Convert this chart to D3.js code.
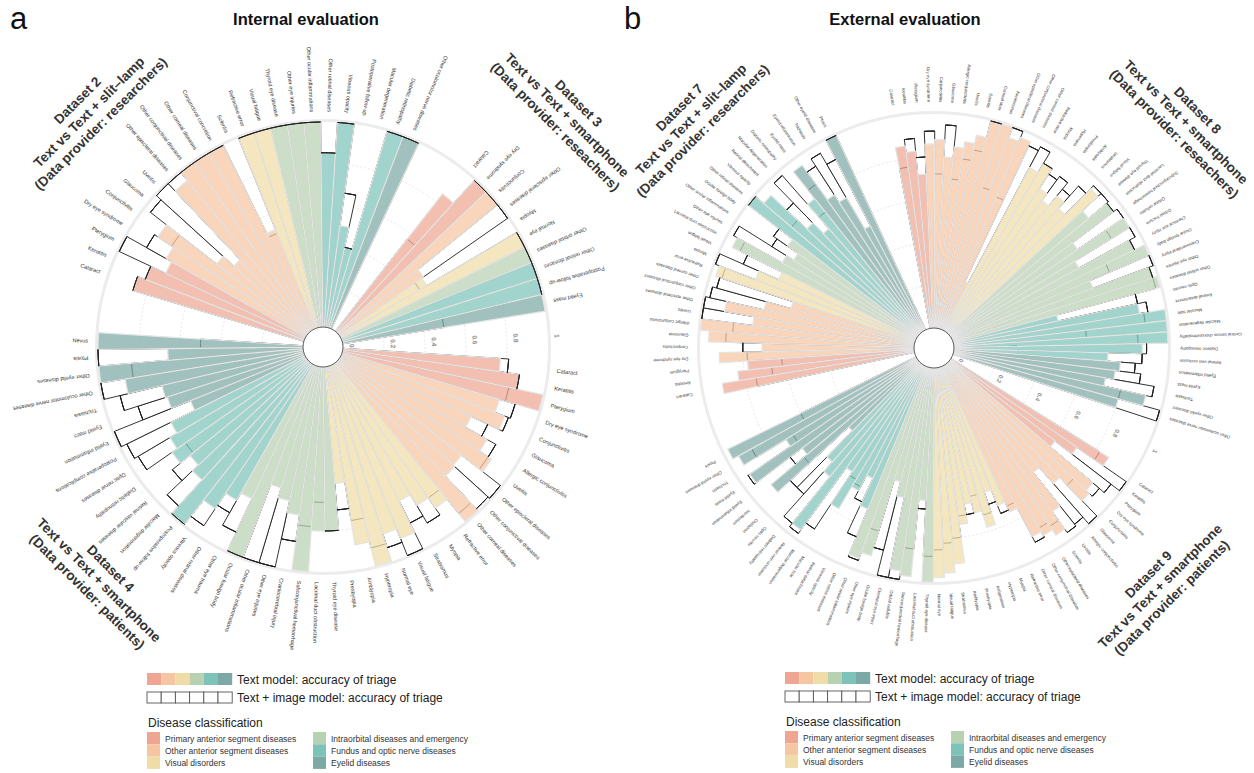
<!DOCTYPE html>
<html>
<head>
<meta charset="utf-8">
<script src="https://cdn.jsdelivr.net/npm/d3@7"></script>
<style>
body { margin: 0; background: #fff; }
svg { font-family: "Liberation Sans", Arial, sans-serif; }
</style>
</head>
<body>
<svg id="fig" width="1254" height="773"></svg>
<script>
// ---- categories ----
const catNames = ['Primary anterior segment diseases', 'Other anterior segment diseases', 'Visual disorders',
  'Intraorbital diseases and emergency', 'Fundus and optic nerve diseases', 'Eyelid diseases'];
const catColors = ['#EEA692', '#F6C5A2', '#F0DCA6', '#B8D1B2', '#7DC3BA', '#7CA9A5'];

const tickVals = [0, 0.2, 0.4, 0.6, 0.8, 1];
const tickLabels = ['0', '0.2', '0.4', '0.6', '0.8', '1'];
const gridVals = [0.2, 0.4, 0.6, 0.8];

// ---- internal evaluation ----
const d2Labels = ['Cataract','Keratitis','Pterygium','Dry eye syndrome','Conjunctivitis','Glaucoma','Uveitis',
  'Other episcleral diseases','Other conjunctival diseases','Other corneal diseases','Conjunctival concretion','Scleritis',
  'Refractive error','Visual fatigue','Thyroid eye disease','Other eye injuries','Other ocular inflammations',
  'Other retinal diseases','Vitreous opacity','Postoperative follow-up','Macular degeneration','Diabetic retinopathy',
  'Other oculomotor nerve diseases'];
const d2Cats = [0,0,0,1,1,1,1,1,1,1,1,1,2,2,3,3,3,4,4,4,4,4,5];
const d2Text = [0.87,0.83,0.75,0.78,0.87,0.56,0.49,0.95,1.0,1.0,1.0,0.52,1.0,1.0,1.0,1.0,1.0,0.85,1.0,0.50,0.40,1.0,1.0];
const d2Image = [0.87,0.83,1.0,0.89,0.79,0.97,1.0,1.0,1.0,1.0,1.0,0.50,1.0,1.0,1.0,1.0,1.0,0.85,1.0,0.66,0.40,1.0,1.0];

const d3Labels = ['Cataract','Dry eye syndrome','Conjunctivitis','Other episcleral diseases','Myopia','Normal eye',
  'Other orbital diseases','Other retinal diseases','Postoperative follow-up','Eyelid mass'];
const d3Cats = [0,0,1,1,2,2,3,4,4,5];
const d3Text = [0.85,1.0,1.0,0.50,0.49,1.0,1.0,1.0,1.0,1.0];
const d3Image = [0.57,1.0,1.0,1.0,0.45,1.0,1.0,1.0,1.0,0.50];

const d4Labels = ['Cataract','Keratitis','Pterygium','Dry eye syndrome','Conjunctivitis','Glaucoma','Allergic conjunctivitis',
  'Uveitis','Other episcleral diseases','Other conjunctival diseases','Other corneal diseases','Refractive error','Myopia',
  'Strabismus','Visual fatigue','Normal eye','Hyperopia','Amblyopia','Presbyopia','Thyroid eye disease',
  'Lacrimal duct obstruction','Subconjunctival hemorrhage','Craniocerebral injury','Other eye injuries',
  'Other ocular inflammations','Ocular foreign body','Other eye trauma','Other retinal diseases','Vitreous opacity',
  'Postoperative follow-up','Macular degeneration','Retinal vascular diseases','Diabetic retinopathy',
  'Optic nerve diseases','Postoperative complications','Eyelid inflammation','Eyelid mass','Trichiasis',
  'Other oculomotor nerve diseases','Other eyelid diseases','Ptosis','Nevus'];
const d4Cats = [0,0,0, 1,1,1,1,1,1,1,1, 2,2,2,2,2,2,2,2, 3,3,3,3,3,3,3,3, 4,4,4,4,4,4,4,4, 5,5,5,5,5,5,5];
const d4Text = [0.77,0.87,1.0, 0.80,0.85,0.70,0.82,0.89,0.76,0.77,1.0, 0.86,0.80,0.74,0.91,0.86,1.0,0.88,0.57,
  0.80,0.80,1.0,0.73,0.67,0.62,1.0,0.72, 0.76,0.85,1.0,0.78,0.74,0.80,0.77,0.73, 0.60,0.70,0.71,0.88,1.0,0.66,1.0];
const d4Image = [0.81,0.87,0.83, 0.88,0.87,0.79,0.87,0.87,1.0,0.99,0.95, 0.80,0.90,0.86,1.0,0.93,0.91,0.76,0.70,
  0.80,0.66,0.78,0.86,1.0,1.0,1.0,0.90, 0.83,0.95,1.0,0.95,0.85,0.72,0.95,0.97, 1.0,0.85,0.92,1.0,0.84,1.0,0.50];

// ---- external evaluation ----
const d7Labels = ['Cataract','Keratitis','Pterygium','Dry eye syndrome','Conjunctivitis','Glaucoma','Allergic conjunctivitis',
  'Uveitis','Other episcleral diseases','Other conjunctival diseases','Other corneal diseases','Refractive error','Myopia',
  'Visual fatigue','Lacrimal duct obstruction','Other eye injuries','Other ocular inflammations','Ocular foreign body',
  'Other retinal diseases','Vitreous opacity','Retinal detachment','Macular degeneration','Diabetic retinopathy',
  'Eyelid mass','Eyelid inflammation','Trichiasis','Other eyelid diseases','Ptosis'];
const d7Cats = [0,0,0, 1,1,1,1,1,1,1,1, 2,2,2, 3,3,3,3, 4,4,4,4,4, 5,5,5,5,5];
const d7Text = [0.91,0.83,0.78, 0.91,0.71,0.96,1.0,0.76,0.90,0.72,0.60, 0.98,0.80,0.70, 0.96,0.72,0.68,0.74,
  1.0,0.95,0.72,0.65,0.80, 0.96,0.76,0.72,0.55,1.0];
const d7Image = [0.75,0.67,0.62, 0.78,0.80,0.88,0.85,1.0,1.0,0.98,0.96, 0.95,1.0,0.88, 0.92,0.98,0.80,0.82,
  1.0,0.78,0.85,0.98,0.72, 0.85,0.92,0.96,0.90,1.0];

const d8Labels = ['Cataract','Keratitis','Pterygium','Dry eye syndrome','Conjunctivitis','Glaucoma','Allergic conjunctivitis',
  'Uveitis','Scleritis','Corneal ulcer','Keratoconus','Other episcleral diseases','Other conjunctival diseases',
  'Other corneal diseases','Refractive error','Myopia','Hyperopia','Presbyopia','Amblyopia','Strabismus','Visual fatigue',
  'Thyroid eye disease','Lacrimal duct obstruction','Subconjunctival hemorrhage','Orbital cellulitis','Orbital fracture',
  'Chemical eye injury','Ocular foreign body','Craniocerebral injury','Other eye injuries','Other orbital diseases',
  'Optic neuritis','Retinal detachment','Macular hole','Macular degeneration','Central serous chorioretinopathy',
  'Diabetic retinopathy','Retinal vein occlusion','Eyelid inflammation','Eyelid mass','Trichiasis',
  'Other eyelid diseases','Other oculomotor nerve diseases'];
const d8Cats = [0,0,0, 1,1,1,1,1,1,1,1,1,1,1, 2,2,2,2,2,2,2, 3,3,3,3,3,3,3,3,3,3, 4,4,4,4,4,4,4, 5,5,5,5,5];
const d8Text = [0.86,0.83,0.72, 0.86,0.88,0.80,0.85,0.88,0.92,1.0,1.0,0.95,0.97,0.25, 0.86,0.91,0.80,0.76,0.82,0.78,0.95,
  0.85,0.96,0.72,0.98,0.68,0.95,1.0,0.70,0.98,1.0, 0.50,0.88,1.0,1.0,1.0,0.88,0.72, 0.78,0.76,0.72,0.92,0.80];
const d8Image = [0.76,0.89,0.80, 0.92,0.72,0.95,0.70,0.80,0.85,1.0,0.69,1.0,0.67,0.95, 0.97,0.91,0.88,0.90,0.86,0.92,0.97,
  0.97,0.96,0.98,0.88,0.98,0.95,0.80,1.0,0.98,0.98, 0.88,0.92,0.90,0.62,0.86,0.90,0.88, 0.85,0.88,0.95,0.80,1.0];

const d9Labels = ['Cataract','Keratitis','Pterygium','Dry eye syndrome','Conjunctivitis','Glaucoma','Allergic conjunctivitis',
  'Uveitis','Scleritis','Other episcleral diseases','Other conjunctival diseases','Other corneal diseases',
  'Refractive error','Myopia','Hyperopia','Astigmatism','Presbyopia','Amblyopia','Strabismus','Visual fatigue','Normal eye',
  'Thyroid eye disease','Lacrimal duct obstruction','Subconjunctival hemorrhage','Orbital cellulitis','Chemical eye injury',
  'Ocular foreign body','Other eye injuries','Other ocular inflammations','Other retinal diseases','Vitreous opacity',
  'Retinal detachment','Macular hole','Macular degeneration','Retinal vein occlusion','Diabetic retinopathy',
  'Optic neuritis','Chalazion','Hordeolum','Eyelid inflammation','Eyelid mass','Trichiasis','Other eyelid diseases','Ptosis'];
const d9Cats = [0,0,0, 1,1,1,1,1,1,1,1,1, 2,2,2,2,2,2,2,2,2, 3,3,3,3,3,3,3,3, 4,4,4,4,4,4,4,4, 5,5,5,5,5,5,5];
const d9Text = [0.87,0.72,0.62, 0.88,0.90,0.75,0.65,0.85,0.95,0.92,0.90,0.75, 0.70,0.62,0.78,0.70,0.65,0.74,0.92,0.96,0.98,
  1.0,0.62,0.98,0.96,0.62,0.55,0.92,0.95, 0.72,0.58,0.66,0.78,0.60,0.96,0.68,0.62, 0.45,0.90,0.68,0.95,0.72,0.95,0.98];
const d9Image = [0.82,1.0,0.95, 0.92,0.80,1.0,0.96,0.97,0.90,0.88,0.93,0.72, 0.74,0.68,0.72,0.62,0.70,0.70,0.80,0.82,0.85,
  0.88,0.66,0.85,1.0,1.0,0.88,0.80,0.96, 0.86,0.70,0.64,0.62,0.92,0.98,0.96,0.82, 0.82,0.70,0.75,0.96,0.68,0.88,0.60];

const svg = d3.select('#fig');

function drawChart(c) {
  const ids = [];
  const rows = [];
  c.order.forEach((o, k) => {
    if (typeof o === 'number') {
      for (let j = 0; j < o; j++) ids.push('gap' + k + '_' + j);
    } else {
      o.labels.forEach((lab, i) => {
        const id = o.name + '_' + i;
        ids.push(id);
        rows.push({ id, label: lab, cat: o.cats[i], text: o.text[i], image: o.image[i] });
      });
    }
  });

  const a0 = c.start * Math.PI / 180;
  const x = d3.scaleBand().domain(ids).range([a0, a0 + 2 * Math.PI]);
  const y = d3.scaleLinear().domain([0, 1]).range([c.r0, c.r1]);
  const bw = x.bandwidth();
  const midDeg = d => (x(d.id) + bw / 2) * 180 / Math.PI;
  const relDeg = d => ((midDeg(d) - c.start) % 360 + 360) % 360;

  const g = svg.append('g').attr('transform', `translate(${c.cx},${c.cy})`);

  g.append('g').selectAll('circle')
    .data(gridVals).join('circle')
    .attr('r', d => y(d))
    .attr('fill', 'none')
    .attr('stroke', '#d6d6d6')
    .attr('stroke-width', 0.6)
    .attr('stroke-dasharray', '2,2');

  g.append('circle')
    .attr('r', y(1) + 1.5)
    .attr('fill', 'none')
    .attr('stroke', '#ececec')
    .attr('stroke-width', 3);

  const arc = d3.arc()
    .innerRadius(c.r0)
    .startAngle(d => x(d.id))
    .endAngle(d => x(d.id) + bw);

  // text + image model (outline)
  g.append('g').selectAll('path')
    .data(rows).join('path')
    .attr('d', d => arc.outerRadius(y(d.image))(d))
    .attr('fill', '#fff')
    .attr('stroke', '#1e1e1e')
    .attr('stroke-width', 0.9);

  // text model (coloured)
  g.append('g').selectAll('path')
    .data(rows).join('path')
    .attr('d', d => arc.outerRadius(y(d.text))(d))
    .attr('fill', d => catColors[d.cat])
    .attr('fill-opacity', 0.72)
    .attr('stroke', '#e4e4e4')
    .attr('stroke-width', 1.2);

  // tops of outline bars that sit at or above the coloured bar
  const topArc = d3.arc()
    .innerRadius(d => y(d.image))
    .outerRadius(d => y(d.image))
    .startAngle(d => x(d.id))
    .endAngle(d => x(d.id) + bw);
  g.append('g').selectAll('path')
    .data(rows.filter(d => d.image >= d.text - 0.001)).join('path')
    .attr('d', topArc)
    .attr('fill', 'none')
    .attr('stroke', '#1e1e1e')
    .attr('stroke-width', 1);

  g.append('circle')
    .attr('r', c.r0)
    .attr('fill', '#fff')
    .attr('stroke', '#333')
    .attr('stroke-width', 0.8);

  // disease labels
  g.append('g').selectAll('text')
    .data(rows).join('text')
    .attr('transform', d => {
      const a = midDeg(d), rad = a * Math.PI / 180;
      const rot = relDeg(d) < 180 ? a - 90 : a + 90;
      return `translate(${c.labelR * Math.sin(rad)},${-c.labelR * Math.cos(rad)}) rotate(${rot})`;
    })
    .attr('text-anchor', d => relDeg(d) < 180 ? 'start' : 'end')
    .attr('dy', '0.35em')
    .attr('font-size', c.labelSize)
    .attr('fill', '#333')
    .text(d => d.label);

  // value axis in the gap
  const ar = c.axisAngle * Math.PI / 180;
  g.append('g').selectAll('text')
    .data(tickVals).join('text')
    .attr('transform', d => {
      const r = y(d) + c.axisOff;
      return `translate(${r * Math.sin(ar)},${-r * Math.cos(ar)}) rotate(${c.axisAngle})`;
    })
    .attr('text-anchor', 'middle')
    .attr('dy', '0.35em')
    .attr('font-size', c.axisSize)
    .attr('font-weight', 'bold')
    .attr('fill', '#8a8a8a')
    .text((d, i) => tickLabels[i]);
}

function datasetLabel(lines, cx, cy, rot) {
  const g = svg.append('g').attr('transform', `translate(${cx},${cy}) rotate(${rot})`);
  g.selectAll('text').data(lines).join('text')
    .attr('y', (d, i) => (i - 1) * 16.5)
    .attr('dy', '0.35em')
    .attr('text-anchor', 'middle')
    .attr('font-size', 13.5)
    .attr('font-weight', 'bold')
    .attr('fill', '#333')
    .text(d => d);
}

function drawLegend(x0, y0) {
  const g = svg.append('g').attr('transform', `translate(${x0},${y0})`);
  const w = 14.2;
  g.selectAll('rect.fill').data(catColors).join('rect')
    .attr('x', (d, i) => i * w).attr('y', 0)
    .attr('width', w).attr('height', 12)
    .attr('fill', d => d);
  g.selectAll('rect.out').data(catColors).join('rect')
    .attr('x', (d, i) => i * w).attr('y', 19)
    .attr('width', w).attr('height', 11)
    .attr('fill', '#fff').attr('stroke', '#555').attr('stroke-width', 0.9);
  g.append('text').attr('x', 90).attr('y', 11).attr('font-size', 12).attr('fill', '#222')
    .text('Text model: accuracy of triage');
  g.append('text').attr('x', 90).attr('y', 29).attr('font-size', 12).attr('fill', '#222')
    .text('Text + image model: accuracy of triage');
  g.append('text').attr('x', 1).attr('y', 54).attr('font-size', 12).attr('fill', '#222')
    .text('Disease classification');
  const items = g.selectAll('g.item').data(catNames).join('g')
    .attr('transform', (d, i) => `translate(${Math.floor(i / 3) * 166},${59 + (i % 3) * 12.3})`);
  items.append('rect').attr('width', 13).attr('height', 12.3)
    .attr('fill', (d, i) => catColors[i]);
  items.append('text').attr('x', 18).attr('y', 9.5)
    .attr('font-size', 8.5).attr('fill', '#333')
    .text(d => d);
}

// ---- panel a ----
drawChart({
  cx: 323, cy: 347, r0: 20, r1: 225, start: 89.4,
  order: [1,
    { name: 'd4', labels: d4Labels, cats: d4Cats, text: d4Text, image: d4Image }, 3,
    { name: 'd2', labels: d2Labels, cats: d2Cats, text: d2Text, image: d2Image }, 3,
    { name: 'd3', labels: d3Labels, cats: d3Cats, text: d3Text, image: d3Image }, 2],
  labelR: 235, labelSize: 5.5, axisAngle: 87.3, axisOff: 9, axisSize: 6.5
});

// ---- panel b ----
drawChart({
  cx: 934, cy: 348, r0: 20, r1: 234, start: 116.5,
  order: [2,
    { name: 'd9', labels: d9Labels, cats: d9Cats, text: d9Text, image: d9Image }, 5,
    { name: 'd7', labels: d7Labels, cats: d7Cats, text: d7Text, image: d7Image }, 5,
    { name: 'd8', labels: d8Labels, cats: d8Cats, text: d8Text, image: d8Image }, 3],
  labelR: 246, labelSize: 4.3, axisAngle: 115.1, axisOff: 10, axisSize: 6
});

datasetLabel(['Dataset 2', 'Text vs Text + slit\u2013lamp', '(Data provider: researchers)'], 89, 112, -45);
datasetLabel(['Dataset 3', 'Text vs Text + smartphone', '(Data provider: reseachers)'], 567, 115, 45);
datasetLabel(['Dataset 4', 'Text vs Text + smartphone', '(Data provider: patients)'], 99, 580, 45);
datasetLabel(['Dataset 7', 'Text vs Text + slit\u2013lamp', '(Data provider: researchers)'], 691, 119, -45);
datasetLabel(['Dataset 8', 'Text vs Text + smartphone', '(Data provider: reseachers)'], 1186, 122, 45);
datasetLabel(['Dataset 9', 'Text vs Text + smartphone', '(Data provider: patients)'], 1160, 586, -45);

svg.append('text').attr('x', 10).attr('y', 29).attr('font-size', 31).attr('fill', '#111').text('a');
svg.append('text').attr('x', 624).attr('y', 29).attr('font-size', 31).attr('fill', '#111').text('b');
svg.append('text').attr('x', 306).attr('y', 25).attr('text-anchor', 'middle')
  .attr('font-size', 16.5).attr('font-weight', 'bold').attr('fill', '#111').text('Internal evaluation');
svg.append('text').attr('x', 905).attr('y', 25).attr('text-anchor', 'middle')
  .attr('font-size', 16.5).attr('font-weight', 'bold').attr('fill', '#111').text('External evaluation');

drawLegend(147, 673);
drawLegend(785, 672);
</script>
</body>
</html>
